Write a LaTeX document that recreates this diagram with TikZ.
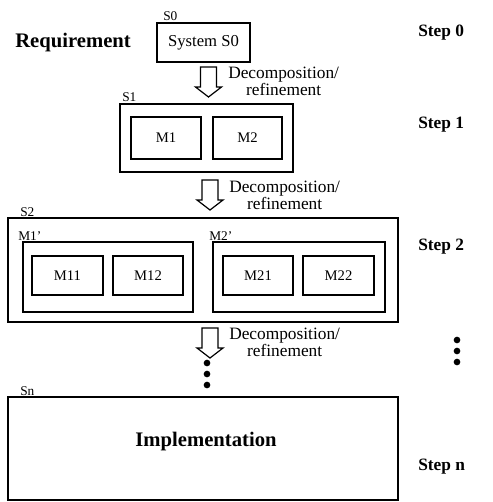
\documentclass[tikz,border=0pt]{standalone}
\usepackage{fontspec}
\setmainfont{Liberation Serif}
\usetikzlibrary{fit,positioning}

\tikzset{
  box/.style={draw,line width=0.9pt,inner sep=0pt},
  tag/.style={anchor=base west,inner sep=0pt,font=\fontsize{10}{10}\selectfont},
  mod/.style={inner sep=0pt,font=\fontsize{11}{11}\selectfont},
  head/.style={anchor=west,inner sep=0pt,font=\fontsize{15.5}{15.5}\selectfont\bfseries},
  stepname/.style={anchor=west,inner sep=0pt,font=\fontsize{13}{13}\selectfont\bfseries},
  note/.style={anchor=west,align=center,inner sep=0pt,font=\fontsize{13}{10.5}\selectfont},
  blob/.style={circle,fill=black,inner sep=0pt,minimum size=5pt},
  pics/downarrow/.style={code={
    \draw[line width=0.9pt,line join=miter]
      (-8,0) -- (8,0) -- (8,20) -- (13,20) -- (0,30) -- (-13,20) -- (-8,20) -- cycle;
  }}
}

\begin{document}
\begin{tikzpicture}[x=0.75pt,y=-0.75pt]
  \useasboundingbox (0,0) rectangle (492,502);

  % step 0
  \node [head] (req) at (15,43) {Requirement};
  \node [box,fit={(157,23) (250,62)},label={[mod,font=\fontsize{12.5}{12.5}\selectfont]center:System S0}] (s0) {};
  \node [tag] (s0tag) at (163,21) {S0};
  \pic (a1) at (208.5,67) {downarrow};
  \node [note] (n1) at (228,81) {Decomposition/\\refinement};

  % step 1
  \node [box,fit={(120,104) (293,172)}] (s1) {};
  \node [tag] (s1tag) at (122,102) {S1};
  \node [box,fit={(131,117) (201,159)},label={[mod]center:M1}] (m1) {};
  \node [box,fit={(213,117) (282,159)},label={[mod]center:M2}] (m2) {};
  \pic (a2) at (210,180) {downarrow};
  \node [note] (n2) at (229,195) {Decomposition/\\refinement};

  % step 2
  \node [box,fit={(8,218) (398,322)}] (s2) {};
  \node [tag] (s2tag) at (20,216) {S2};
  \node [box,fit={(23,242) (193,312)}] (m1p) {};
  \node [tag] (m1ptag) at (18,240) {M1'};
  \node [box,fit={(213,242) (385,312)}] (m2p) {};
  \node [tag] (m2ptag) at (209,240) {M2'};
  \node [box,fit={(32,256) (103,295)},label={[mod]center:M11}] (m11) {};
  \node [box,fit={(113,256) (183,295)},label={[mod]center:M12}] (m12) {};
  \node [box,fit={(223,256) (293,295)},label={[mod]center:M21}] (m21) {};
  \node [box,fit={(303,256) (374,295)},label={[mod]center:M22}] (m22) {};
  \pic (a3) at (210,328) {downarrow};
  \node [note] (n3) at (229,342) {Decomposition/\\refinement};
  \foreach \y in {363,374,385}
    \node [blob] at (207,\y) {};

  % step n
  \node [box,fit={(8,397) (398,500)}] (sn) {};
  \node [tag] (sntag) at (20,395) {Sn};
  \node [head,anchor=center] (impl) at (206,442) {Implementation};

  % steps on the right
  \node [stepname] (st0) at (418,33) {Step 0};
  \node [stepname] (st1) at (418,125) {Step 1};
  \node [stepname] (st2) at (418,247) {Step 2};
  \foreach \y in {340,351,362}
    \node [blob] at (457,\y) {};
  \node [stepname] (stn) at (418,467) {Step n};
\end{tikzpicture}
\end{document}
